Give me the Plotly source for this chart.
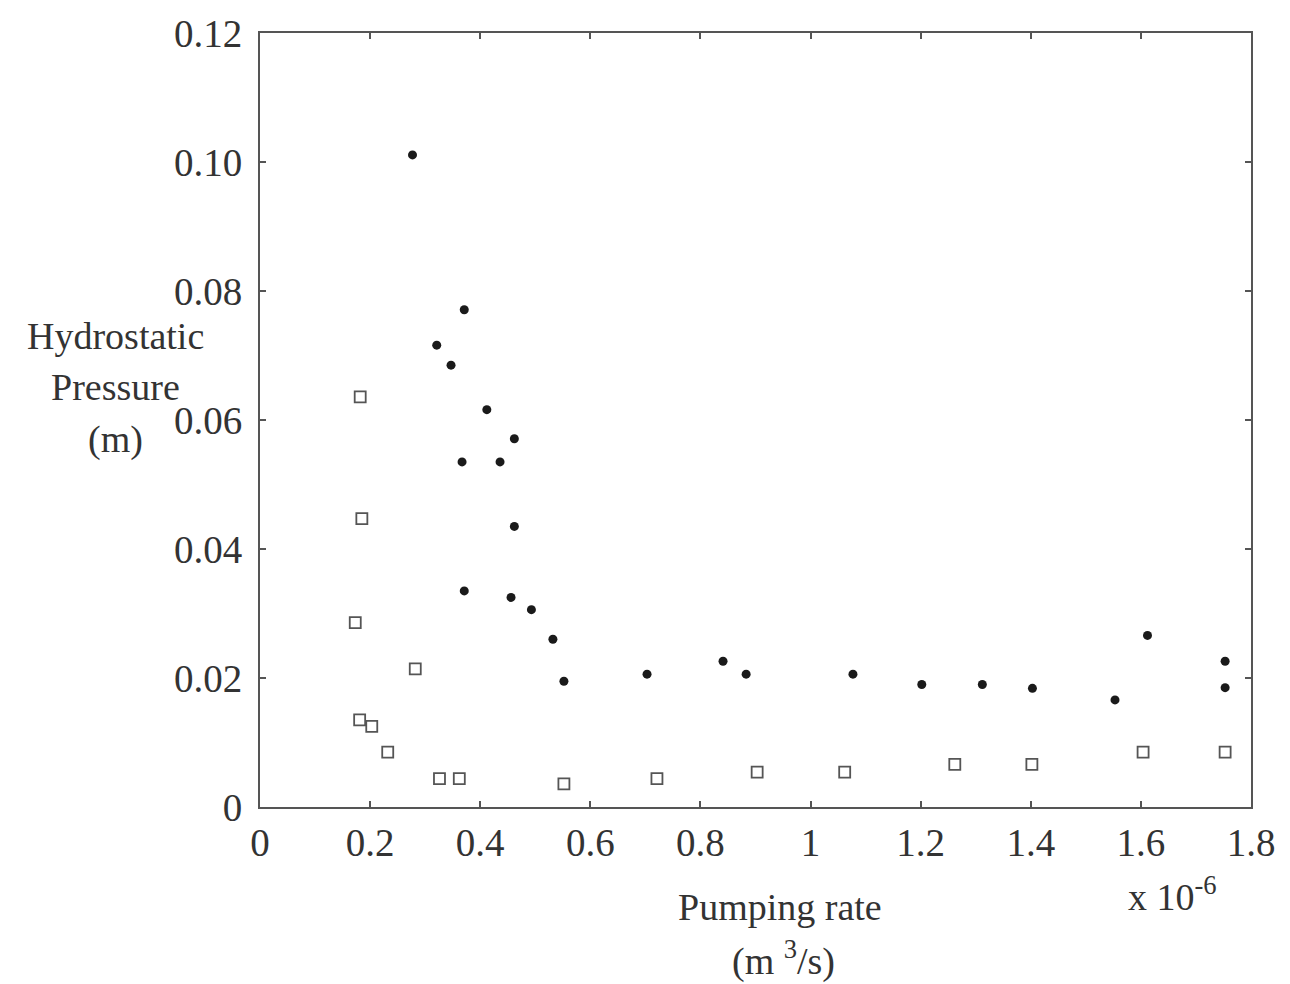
import plotly.graph_objects as go

# Pumping rate (x 10^-6 m^3/s) and hydrostatic pressure (m)
filled_rate = [0.277, 0.371, 0.321, 0.347, 0.412, 0.462, 0.367, 0.436, 0.462,
               0.371, 0.456, 0.493, 0.532, 0.552, 0.703, 0.841, 0.883, 1.077,
               1.202, 1.312, 1.403, 1.553, 1.612, 1.753, 1.753]
filled_pressure = [0.1011, 0.0771, 0.0716, 0.0685, 0.0616, 0.0571, 0.0535, 0.0535, 0.0435,
                   0.0335, 0.0325, 0.0306, 0.0260, 0.0195, 0.0206, 0.0226, 0.0206, 0.0206,
                   0.0190, 0.0190, 0.0184, 0.0166, 0.0266, 0.0226, 0.0185]

open_rate = [0.182, 0.185, 0.173, 0.282, 0.181, 0.203, 0.232, 0.326, 0.362,
             0.552, 0.721, 0.903, 1.062, 1.262, 1.402, 1.604, 1.753]
open_pressure = [0.0636, 0.0447, 0.0286, 0.0214, 0.0135, 0.0125, 0.0085, 0.0044, 0.0044,
                 0.0036, 0.0044, 0.0054, 0.0054, 0.0066, 0.0066, 0.0085, 0.0085]

x_ticks = [0, 0.2, 0.4, 0.6, 0.8, 1.0, 1.2, 1.4, 1.6, 1.8]
x_tick_text = ["0", "0.2", "0.4", "0.6", "0.8", "1", "1.2", "1.4", "1.6", "1.8"]
y_ticks = [0, 0.02, 0.04, 0.06, 0.08, 0.10, 0.12]
y_tick_text = ["0", "0.02", "0.04", "0.06", "0.08", "0.10", "0.12"]

FONT = "Liberation Serif, Times New Roman, serif"
TEXT = "#333333"
AXIS = "#555555"

fig = go.Figure()
fig.add_trace(go.Scatter(
    x=filled_rate, y=filled_pressure, mode="markers",
    marker=dict(symbol="circle", size=9, color="#1a1a1a"),
    showlegend=False,
))
fig.add_trace(go.Scatter(
    x=open_rate, y=open_pressure, mode="markers",
    marker=dict(symbol="square-open", size=11, color="#555555", line=dict(width=1.8)),
    showlegend=False,
))

axis_common = dict(
    showgrid=False, zeroline=False, showline=True, linecolor=AXIS, linewidth=2,
    mirror="ticks", ticks="inside", ticklen=6, tickwidth=1.5, tickcolor=AXIS,
    tickfont=dict(family=FONT, size=39, color=TEXT),
)
fig.update_xaxes(range=[0, 1.8], tickvals=x_ticks, ticktext=x_tick_text, **axis_common)
fig.update_yaxes(range=[0, 0.12], tickvals=y_ticks, ticktext=y_tick_text, ticklabelstandoff=8,
                 **axis_common)

# Plot-area edges in pixels, used to place the free-standing titles
plot_l, plot_r, plot_t, plot_b = 260, 1251, 27, 807

titles = [
    ("Hydrostatic", 115, 332),
    ("Pressure", 115, 384),
    ("(m)", 115, 437),
    ("Pumping rate", 780, 908),
    ("(m <sup>3</sup>/s)", 783, 960),
    ("x 10<sup>-6</sup>", 1172, 895),
]
for text, px, py in titles:
    fig.add_annotation(
        text=text, xref="paper", yref="paper",
        x=(px - plot_l) / (plot_r - plot_l),
        y=(plot_b - py) / (plot_b - plot_t),
        xanchor="center", yanchor="middle", showarrow=False,
        font=dict(family=FONT, size=38, color=TEXT),
    )

fig.update_layout(
    width=1290, height=984,
    margin=dict(l=plot_l, r=1290 - plot_r, t=plot_t, b=984 - plot_b),
    paper_bgcolor="white", plot_bgcolor="white",
)
fig.write_html("out.html")
